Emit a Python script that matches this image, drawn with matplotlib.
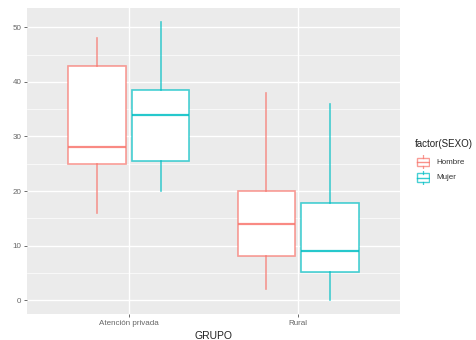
import matplotlib
matplotlib.use("Agg")
import matplotlib.pyplot as plt
from matplotlib.patches import Rectangle

plt.rcParams['font.family'] = ['Liberation Sans', 'DejaVu Sans']

# Datos
grupos = ["Atención privada", "Rural"]
sexos = ["Hombre", "Mujer"]
colores = {"Hombre": "#F8766D", "Mujer": "#00BFC4"}

whis_lo = {"Hombre": [16, 2], "Mujer": [20, 0]}
q1 = {"Hombre": [25, 8], "Mujer": [25.5, 5.2]}
mediana = {"Hombre": [28, 14], "Mujer": [34, 9]}
q3 = {"Hombre": [43, 20], "Mujer": [38.6, 17.8]}
whis_hi = {"Hombre": [48, 38], "Mujer": [51, 36]}

fig = plt.figure(figsize=(4.76, 3.4), dpi=100)
ax = fig.add_axes([27 / 476, 1 - 314 / 340, 373 / 476, 306 / 340])
ax.set_facecolor("#EBEBEB")

# grid
for y in [5, 15, 25, 35, 45]:
    ax.axhline(y, color="white", lw=0.5, zorder=0)
for y in [0, 10, 20, 30, 40, 50]:
    ax.axhline(y, color="white", lw=1.0, zorder=0)
for x in [1, 2]:
    ax.axvline(x, color="white", lw=1.0, zorder=0)

offsets = {"Hombre": -0.1875, "Mujer": 0.1875}
for s in sexos:
    stats = []
    for i in range(len(grupos)):
        stats.append({"med": mediana[s][i], "q1": q1[s][i], "q3": q3[s][i],
                      "whislo": whis_lo[s][i], "whishi": whis_hi[s][i], "fliers": []})
    pos = [i + 1 + offsets[s] for i in range(len(grupos))]
    c = colores[s]
    ax.bxp(stats, positions=pos, widths=0.3375, patch_artist=True, showcaps=False,
           boxprops=dict(facecolor="white", edgecolor=c + "B8", linewidth=1.2),
           medianprops=dict(color=c, alpha=0.85, linewidth=1.6, solid_capstyle="butt"),
           whiskerprops=dict(color=c, alpha=0.72, linewidth=1.2), manage_ticks=False, zorder=3)

ax.set_xlim(0.4, 2.6)
ax.set_ylim(-2.55, 53.55)
ax.set_xticks([1, 2])
ax.set_xticklabels(grupos)
ax.set_yticks([0, 10, 20, 30, 40, 50])
ax.tick_params(axis="both", colors="#555555", length=2.5, width=0.6, labelsize=5.8,
               labelcolor="#666666", pad=1.5)
for sp in ax.spines.values():
    sp.set_visible(False)
ax.set_xlabel("GRUPO", fontsize=7.5, color="#222222", labelpad=3)

# leyenda
fig.text(415 / 476, 1 - 144 / 340, "factor(SEXO)", fontsize=7, va="center", ha="left",
         color="#222222")
for j, s in enumerate(sexos):
    yc = 162 + j * 15.7
    lax = fig.add_axes([416 / 476, 1 - (yc + 7) / 340, 14 / 476, 14 / 340])
    lax.set_xlim(0, 1)
    lax.set_ylim(0, 1)
    lax.axis("off")
    c = colores[s]
    lax.plot([0.5, 0.5], [0.0, 0.2], color=c, alpha=0.75, lw=0.9)
    lax.plot([0.5, 0.5], [0.8, 1.0], color=c, alpha=0.75, lw=0.9)
    lax.add_patch(Rectangle((0.06, 0.2), 0.88, 0.6, facecolor="white",
                            edgecolor=c + "B8", lw=1.0))
    lax.plot([0.06, 0.94], [0.5, 0.5], color=c, alpha=0.8, lw=1.0)
    fig.text(436 / 476, 1 - yc / 340, s, fontsize=5.8, va="center", ha="left", color="#333333")

fig.savefig("out.png", dpi=100)
